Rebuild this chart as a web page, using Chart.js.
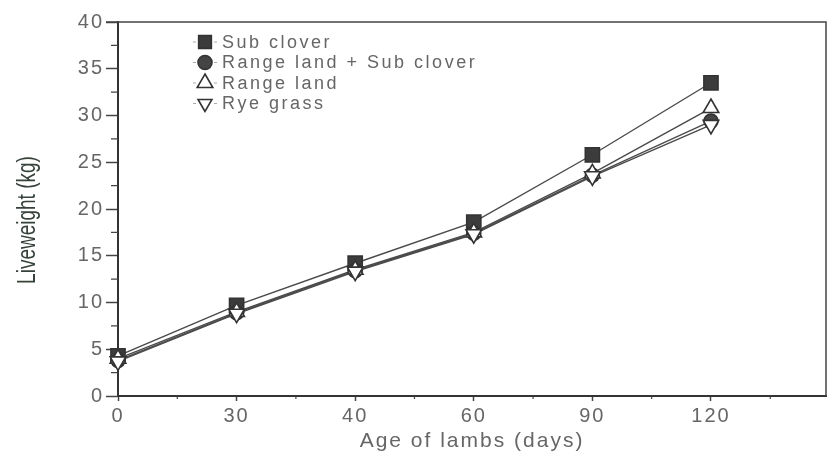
<!DOCTYPE html>
<html lang="en">
<head>
<meta charset="UTF-8">
<title>Liveweight of lambs</title>
<style>
    body { margin: 0; background: #fff; }
    #wrap { width: 827px; height: 458px; }
</style>
</head>
<body>
<div id="wrap"><canvas id="lambChart" width="827" height="458"></canvas></div>
<script src="https://cdn.jsdelivr.net/npm/chart.js"></script>
<script>
// age categories (days) - evenly spaced on the axis
const ages = ['0', '30', '40', '60', '90', '120'];

// liveweight (kg)
const subClover = [4.3, 9.7, 14.2, 18.6, 25.8, 33.5];
const rangeSubClover = [3.8, 8.9, 13.4, 17.4, 23.6, 29.4];
const rangeLand = [4.0, 9.0, 13.5, 17.5, 23.8, 30.8];
const ryeGrass = [3.7, 8.8, 13.3, 17.3, 23.5, 29.0];

const seriesNames = ['Sub clover', 'Range land + Sub clover', 'Range land', 'Rye grass'];

const yTicks = [0, 5, 10, 15, 20, 25, 30, 35, 40];

function pts(arr) {
    return arr.map((v, i) => ({ x: i, y: v }));
}

const lineCol = '#4a4a4a';
const textCol = '#666';

// legend drawn inside the plot, top-left
const innerLegend = {
    id: 'innerLegend',
    afterDatasetsDraw(chart) {
        const ctx = chart.ctx;
        ctx.save();
        ctx.letterSpacing = '2.5px';
        ctx.font = '18px "Liberation Sans", Arial, sans-serif';
        ctx.textBaseline = 'middle';
        chart.data.datasets.forEach((ds, i) => {
            const y = 42 + i * 20.5;
            const x = 205;
            ctx.strokeStyle = '#aaa';
            ctx.lineWidth = 1;
            ctx.beginPath();
            ctx.moveTo(x - 12, y); ctx.lineTo(x - 9, y);
            ctx.moveTo(x + 9, y); ctx.lineTo(x + 12, y);
            ctx.stroke();
            ctx.fillStyle = ds.pointBackgroundColor;
            ctx.strokeStyle = ds.pointBorderColor;
            ctx.lineWidth = ds.pointBorderWidth;
            Chart.helpers.drawPoint(ctx, {
                pointStyle: ds.pointStyle,
                rotation: ds.pointRotation || 0,
                radius: ds.legendRadius,
                borderWidth: ds.pointBorderWidth
            }, x, y);
            ctx.fillStyle = textCol;
            ctx.fillText(ds.label, 222, y + 1);
        });
        ctx.restore();
    }
};

// frame top/right, minor ticks and rotated y title
const frame = {
    id: 'frame',
    beforeDraw(chart) {
        chart.ctx.letterSpacing = '2px';
    },
    afterDraw(chart) {
        const ctx = chart.ctx;
        const a = chart.chartArea;
        const xs = chart.scales.x, ys = chart.scales.y;
        ctx.save();
        ctx.strokeStyle = '#444';
        ctx.lineWidth = 1.5;
        ctx.beginPath();
        ctx.moveTo(a.left - 12, a.top); ctx.lineTo(a.right, a.top); ctx.lineTo(a.right, a.bottom);
        ctx.stroke();
        ctx.lineWidth = 1.2;
        ctx.beginPath();
        for (let v = 0.5; v < xs.max; v += 1) {
            const px = xs.getPixelForValue(v);
            ctx.moveTo(px, a.bottom); ctx.lineTo(px, a.bottom + 3);
        }
        for (let v = 2.5; v < ys.max; v += 5) {
            const py = ys.getPixelForValue(v);
            ctx.moveTo(a.left, py); ctx.lineTo(a.left - 7, py);
        }
        ctx.stroke();
        ctx.letterSpacing = '0px';
        ctx.translate(28, (a.top + a.bottom) / 2 + 11);
        ctx.rotate(-Math.PI / 2);
        ctx.scale(0.76, 1);
        ctx.font = '25px "Liberation Sans", Arial, sans-serif';
        ctx.fillStyle = '#36423a';
        ctx.textAlign = 'center';
        ctx.textBaseline = 'middle';
        ctx.fillText('Liveweight (kg)', 0, 0);
        ctx.restore();
    }
};

function makeSet(i, data, style, fill, rot, radius, legendRadius) {
    return {
        label: seriesNames[i],
        data: pts(data),
        borderColor: lineCol,
        borderWidth: 1.4,
        pointStyle: style,
        pointRotation: rot,
        pointRadius: radius,
        legendRadius: legendRadius,
        pointBackgroundColor: fill,
        pointBorderColor: '#333',
        pointBorderWidth: 1.6,
        clip: false,
        order: 4 - i
    };
}

const datasets = [
    makeSet(0, subClover, 'rect', '#3c3c3c', 0, 10, 9),
    makeSet(1, rangeSubClover, 'circle', '#444', 0, 7, 7),
    makeSet(2, rangeLand, 'triangle', '#fff', 0, 9, 9),
    makeSet(3, ryeGrass, 'triangle', '#fff', 180, 9, 8)
];

new Chart(document.getElementById('lambChart'), {
    type: 'line',
    data: { datasets: datasets },
    options: {
        responsive: false,
        animation: false,
        layout: { autoPadding: false, padding: { top: 22, right: 1, left: 0, bottom: 0 } },
        plugins: { legend: { display: false }, tooltip: { enabled: false } },
        scales: {
            x: {
                type: 'linear',
                min: 0,
                max: 5.97,
                afterFit(s) { s.height = 62; s.paddingRight = 0; s.paddingLeft = 0; },
                grid: { drawOnChartArea: false, tickLength: 5, tickColor: '#444', tickWidth: 1.5 },
                border: { color: '#333', width: 2 },
                ticks: {
                    stepSize: 1,
                    includeBounds: false,
                    padding: 3,
                    color: textCol,
                    font: { size: 20, family: '"Liberation Sans", Arial, sans-serif' },
                    callback: v => ages[v] !== undefined ? ages[v] : ''
                },
                title: {
                    display: true,
                    text: 'Age of lambs (days)',
                    color: textCol,
                    padding: { top: 0 },
                    font: { size: 21, family: '"Liberation Sans", Arial, sans-serif' }
                }
            },
            y: {
                min: 0,
                max: 40,
                afterFit(s) { s.width = 118; },
                afterBuildTicks(s) { s.ticks = yTicks.map(v => ({ value: v })); },
                grid: { drawOnChartArea: false, tickLength: 12, tickColor: '#444', tickWidth: 1.5 },
                border: { color: '#333', width: 2 },
                ticks: {
                    padding: 2,
                    color: textCol,
                    font: { size: 20, family: '"Liberation Sans", Arial, sans-serif' }
                }
            }
        }
    },
    plugins: [innerLegend, frame]
});
</script>
</body>
</html>
